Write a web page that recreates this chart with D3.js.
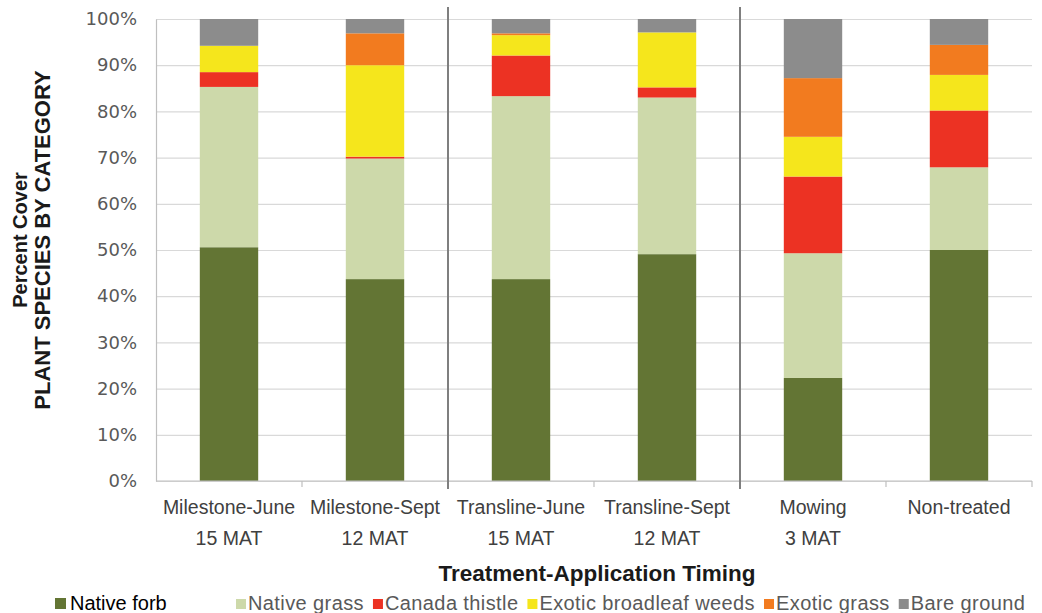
<!DOCTYPE html>
<html>
<head>
<meta charset="utf-8">
<script src="https://cdn.jsdelivr.net/npm/d3@7"></script>
<style>
  body { margin: 0; background: #fff; }
  svg { display: block; }
</style>
</head>
<body>
<div id="chart"></div>
<script>
// categories on the x axis (two-line labels)
var categories = ["Milestone-June", "Milestone-Sept", "Transline-June", "Transline-Sept", "Mowing", "Non-treated"];
var subLabels = ["15 MAT", "12 MAT", "15 MAT", "12 MAT", "3 MAT", ""];

// series, bottom to top (percent cover)
var seriesNames = ["Native forb", "Native grass", "Canada thistle", "Exotic broadleaf weeds", "Exotic grass", "Bare ground"];
var nativeForb     = [50.6, 43.7, 43.7, 49.1, 22.3, 50.0];
var nativeGrass    = [34.7, 26.1, 39.6, 33.9, 27.0, 17.9];
var canadaThistle  = [3.2, 0.4, 8.8, 2.2, 16.6, 12.3];
var exoticBroadleaf = [5.7, 19.8, 4.4, 11.9, 8.6, 7.7];
var exoticGrass    = [0, 6.9, 0.4, 0, 12.7, 6.5];
var bareGround     = [5.8, 3.1, 3.1, 2.9, 12.8, 5.6];

var yTicks = [0, 10, 20, 30, 40, 50, 60, 70, 80, 90, 100];

var colors = ["#637534", "#cdd9aa", "#ec3223", "#f5e61c", "#f27b1f", "#8c8c8c"];

// set the dimensions and margins of the graph
var margin = {top: 19, right: 10, bottom: 132, left: 156},
    width = 1042 - margin.left - margin.right,
    height = 613 - margin.top - margin.bottom;

// build a table for d3.stack
var seriesValues = [nativeForb, nativeGrass, canadaThistle, exoticBroadleaf, exoticGrass, bareGround];
var table = categories.map(function (c, i) {
    var row = {category: c};
    seriesNames.forEach(function (s, j) { row[s] = seriesValues[j][i]; });
    return row;
});
var stacked = d3.stack().keys(seriesNames)(table);

// set the ranges
var x = d3.scaleBand().domain(categories).range([0, width])
    .paddingInner(0.6).paddingOuter(0.3);
var y = d3.scaleLinear().domain([0, 100]).range([height, 0]);
var color = d3.scaleOrdinal().domain(seriesNames).range(colors);

var svg = d3.select("#chart").append("svg")
    .attr("width", width + margin.left + margin.right)
    .attr("height", height + margin.top + margin.bottom)
    .append("g")
    .attr("transform", "translate(" + margin.left + "," + margin.top + ")");

// gridlines
var grid = svg.append("g")
    .call(d3.axisLeft(y).tickValues(yTicks).tickSize(-width).tickFormat(""));
grid.select(".domain").remove();
grid.selectAll("line").attr("stroke", "#d9d9d9").attr("stroke-width", 1.2);

// bars
svg.append("g").selectAll("g")
    .data(stacked)
    .enter().append("g")
    .attr("fill", function (d) { return color(d.key); })
    .selectAll("rect")
    .data(function (d) { return d; })
    .enter().append("rect")
    .attr("x", function (d) { return x(d.data.category); })
    .attr("y", function (d) { return y(d[1]); })
    .attr("height", function (d) { return y(d[0]) - y(d[1]); })
    .attr("width", x.bandwidth());

// y axis
var yAxis = svg.append("g")
    .call(d3.axisLeft(y).tickValues(yTicks).tickSize(0).tickPadding(19)
        .tickFormat(function (d) { return d + "%"; }));
yAxis.select(".domain").attr("stroke", "#bfbfbf").attr("stroke-width", 1.2);
yAxis.selectAll("text")
    .style("font-family", "DejaVu Sans")
    .style("font-size", "18px")
    .attr("fill", "#595959");

// x axis line and tick marks at band boundaries
var step = x.step();
svg.append("line")
    .attr("x1", 0).attr("x2", width)
    .attr("y1", height).attr("y2", height)
    .attr("stroke", "#bfbfbf").attr("stroke-width", 1.2);
svg.append("g").selectAll("line")
    .data(categories)
    .enter().append("line")
    .attr("x1", function (d) { return x(d) + x.bandwidth() / 2 + step / 2; })
    .attr("x2", function (d) { return x(d) + x.bandwidth() / 2 + step / 2; })
    .attr("y1", height).attr("y2", height + 6)
    .attr("stroke", "#bfbfbf").attr("stroke-width", 1.2);

// group separators
var separatorAfter = ["Milestone-Sept", "Transline-Sept"];
svg.append("g").selectAll("line")
    .data(separatorAfter)
    .enter().append("line")
    .attr("x1", function (d) { return x(d) + x.bandwidth() / 2 + step / 2; })
    .attr("x2", function (d) { return x(d) + x.bandwidth() / 2 + step / 2; })
    .attr("y1", -12).attr("y2", height + 8)
    .attr("stroke", "#7f7f7f").attr("stroke-width", 2);

// x tick labels (two lines)
var xl = svg.append("g").selectAll("text")
    .data(categories)
    .enter().append("text")
    .attr("text-anchor", "middle")
    .style("font-family", "Liberation Sans")
    .style("font-size", "19.5px")
    .attr("fill", "#404040");
xl.append("tspan")
    .attr("x", function (d) { return x(d) + x.bandwidth() / 2; })
    .attr("y", height + 33)
    .text(function (d) { return d; });
xl.append("tspan")
    .attr("x", function (d) { return x(d) + x.bandwidth() / 2; })
    .attr("y", height + 64)
    .text(function (d, i) { return subLabels[i]; });

// x axis title
svg.append("text")
    .attr("x", 441)
    .attr("y", height + 100)
    .attr("text-anchor", "middle")
    .style("font-family", "Liberation Sans Narrow, Liberation Sans")
    .style("font-weight", "bold")
    .style("font-size", "22.5px")
    .attr("fill", "#1a1a1a")
    .text("Treatment-Application Timing");

// y axis title (two lines)
var yt = svg.append("text")
    .attr("transform", "rotate(-90)")
    .attr("text-anchor", "middle")
    .style("font-family", "Liberation Sans")
    .style("font-weight", "bold")
    .attr("fill", "#1a1a1a");
yt.append("tspan")
    .attr("x", -(height / 2) + 10)
    .attr("y", 27 - margin.left)
    .style("font-size", "20px")
    .text("Percent Cover");
yt.append("tspan")
    .attr("x", -(height / 2) + 10)
    .attr("y", 50 - margin.left)
    .style("font-size", "22px")
    .text("PLANT SPECIES BY CATEGORY");

// legend
var legend = d3.select("svg").append("g");
// first entry sits apart on the left
var first = legend.append("g").attr("transform", "translate(55,0)");
first.append("rect").attr("x", 0).attr("y", 598).attr("width", 11).attr("height", 11)
    .attr("fill", colors[0]);
first.append("text").attr("x", 15).attr("y", 610)
    .style("font-family", "Liberation Sans").style("font-size", "20px")
    .attr("fill", "#000").text(seriesNames[0]);

var lx = 236;
seriesNames.slice(1).forEach(function (s) {
    var g = legend.append("g").attr("transform", "translate(" + lx + ",0)");
    g.append("rect").attr("x", 0).attr("y", 599).attr("width", 10).attr("height", 10)
        .attr("fill", color(s));
    var t = g.append("text").attr("x", 12).attr("y", 610)
        .style("font-family", "Liberation Sans").style("font-size", "20px")
        .style("letter-spacing", "0.4px")
        .attr("fill", "#595959").text(s);
    lx += 12 + t.node().getComputedTextLength() + 9;
});
</script>
</body>
</html>
